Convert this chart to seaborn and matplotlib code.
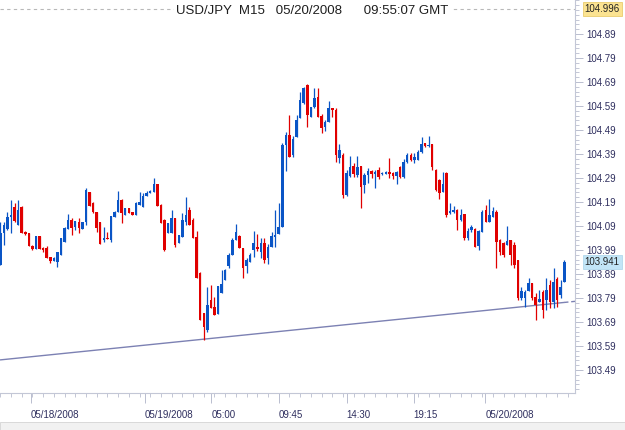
import numpy as np
import pandas as pd
import seaborn as sns
import matplotlib.pyplot as plt
import matplotlib.transforms as mtransforms
from matplotlib.ticker import FixedLocator, FormatStrFormatter
from matplotlib.patches import Rectangle

# USD/JPY M15 candles
opens = [
    103.928, 104.061, 104.078, 104.128, 104.169, 104.094, 104.169, 104.065, 104.061, 104.007,
    103.994, 104.049, 103.999, 103.999, 103.961, 103.944, 103.940, 103.969, 104.024, 104.078,
    104.115, 104.086, 104.107, 104.078, 104.107, 104.232, 104.186, 104.149, 104.107, 104.032,
    104.040, 104.032, 104.128, 104.149, 104.199, 104.136, 104.165, 104.149, 104.136, 104.178,
    104.169, 104.215, 104.228, 104.232, 104.265, 104.178, 104.115, 104.061, 104.061, 104.124,
    104.019, 104.044, 104.107, 104.157, 104.115, 104.044, 103.894, 103.728, 103.657, 103.782,
    103.753, 103.724, 103.811, 103.865, 103.924, 103.969, 104.032, 104.049, 103.999, 103.924,
    103.940, 103.990, 104.003, 103.982, 104.019, 103.957, 104.003, 104.044, 104.057, 104.086,
    104.428, 104.469, 104.386, 104.461, 104.540, 104.603, 104.678, 104.544, 104.586, 104.628,
    104.549, 104.503, 104.524, 104.582, 104.574, 104.374, 104.386, 104.219, 104.299, 104.340,
    104.303, 104.340, 104.261, 104.303, 104.319, 104.307, 104.324, 104.307, 104.307, 104.315,
    104.311, 104.299, 104.336, 104.294, 104.357, 104.386, 104.365, 104.365, 104.399, 104.436,
    104.424, 104.432, 104.324, 104.282, 104.232, 104.311, 104.144, 104.149, 104.157, 104.115,
    104.140, 104.040, 104.074, 104.078, 104.007, 104.065, 104.157, 104.107, 104.128, 104.149,
    104.032, 104.019, 104.011, 104.032, 104.011, 103.949, 103.790, 103.790, 103.819, 103.853,
    103.794, 103.774, 103.815, 103.782, 103.844, 103.774, 103.869, 103.803, 103.857,
]
highs = [
    104.107, 104.107, 104.149, 104.199, 104.186, 104.199, 104.174, 104.069, 104.061, 104.011,
    104.049, 104.049, 104.003, 104.007, 103.961, 103.961, 103.982, 104.040, 104.086, 104.140,
    104.124, 104.111, 104.124, 104.107, 104.249, 104.232, 104.190, 104.149, 104.107, 104.086,
    104.065, 104.132, 104.153, 104.236, 104.203, 104.165, 104.165, 104.149, 104.190, 104.232,
    104.228, 104.236, 104.240, 104.290, 104.265, 104.182, 104.119, 104.103, 104.157, 104.124,
    104.053, 104.144, 104.211, 104.169, 104.124, 104.069, 103.899, 103.728, 103.836, 103.844,
    103.794, 103.840, 103.907, 103.911, 103.978, 104.040, 104.099, 104.053, 103.999, 103.957,
    103.978, 104.069, 104.057, 104.040, 104.040, 104.015, 104.065, 104.157, 104.186, 104.436,
    104.482, 104.553, 104.465, 104.553, 104.649, 104.669, 104.682, 104.586, 104.665, 104.665,
    104.557, 104.532, 104.611, 104.582, 104.582, 104.432, 104.394, 104.324, 104.382, 104.353,
    104.382, 104.340, 104.311, 104.332, 104.324, 104.324, 104.336, 104.315, 104.319, 104.374,
    104.315, 104.319, 104.340, 104.369, 104.394, 104.394, 104.394, 104.407, 104.461, 104.436,
    104.465, 104.432, 104.328, 104.286, 104.315, 104.315, 104.186, 104.174, 104.161, 104.161,
    104.140, 104.082, 104.094, 104.082, 104.074, 104.157, 104.178, 104.203, 104.169, 104.157,
    104.036, 104.024, 104.090, 104.032, 104.024, 103.949, 103.836, 103.824, 103.874, 103.853,
    103.811, 103.824, 103.824, 103.874, 103.865, 103.915, 103.878, 103.865, 103.949,
]
lows = [
    103.928, 104.011, 104.074, 104.061, 104.107, 104.094, 104.061, 104.053, 104.007, 103.990,
    103.994, 103.994, 103.982, 103.957, 103.936, 103.944, 103.919, 103.969, 104.024, 104.078,
    104.053, 104.074, 104.061, 104.078, 104.094, 104.174, 104.144, 104.065, 104.015, 104.024,
    104.036, 104.024, 104.128, 104.149, 104.103, 104.136, 104.144, 104.136, 104.136, 104.178,
    104.169, 104.215, 104.228, 104.232, 104.174, 104.103, 103.986, 104.061, 104.061, 104.003,
    104.019, 104.044, 104.094, 104.094, 104.040, 103.874, 103.699, 103.615, 103.649, 103.749,
    103.719, 103.724, 103.811, 103.865, 103.915, 103.969, 104.032, 103.999, 103.874, 103.894,
    103.940, 103.961, 103.986, 103.957, 103.936, 103.932, 104.003, 104.003, 104.057, 104.086,
    104.319, 104.378, 104.378, 104.461, 104.540, 104.599, 104.503, 104.544, 104.582, 104.544,
    104.478, 104.486, 104.524, 104.544, 104.357, 104.353, 104.207, 104.215, 104.294, 104.294,
    104.294, 104.165, 104.228, 104.269, 104.290, 104.249, 104.286, 104.303, 104.307, 104.290,
    104.286, 104.265, 104.290, 104.290, 104.353, 104.361, 104.353, 104.365, 104.394, 104.419,
    104.419, 104.324, 104.236, 104.203, 104.232, 104.128, 104.140, 104.144, 104.074, 104.111,
    104.032, 104.032, 104.065, 104.003, 103.990, 104.065, 104.107, 104.107, 104.128, 103.915,
    103.969, 103.961, 104.011, 103.928, 103.915, 103.782, 103.782, 103.753, 103.819, 103.782,
    103.699, 103.774, 103.707, 103.740, 103.749, 103.749, 103.753, 103.790, 103.857,
]
closes = [
    104.061, 104.094, 104.128, 104.136, 104.111, 104.157, 104.061, 104.057, 104.007, 103.994,
    104.049, 103.994, 103.990, 103.957, 103.944, 103.957, 103.982, 104.040, 104.082, 104.115,
    104.082, 104.111, 104.082, 104.107, 104.240, 104.174, 104.149, 104.082, 104.015, 104.040,
    104.036, 104.132, 104.149, 104.199, 104.144, 104.165, 104.144, 104.136, 104.186, 104.190,
    104.215, 104.228, 104.236, 104.265, 104.174, 104.103, 103.990, 104.103, 104.124, 104.011,
    104.053, 104.115, 104.136, 104.094, 104.040, 103.874, 103.699, 103.669, 103.761, 103.749,
    103.719, 103.840, 103.849, 103.907, 103.969, 104.032, 104.065, 103.999, 103.915, 103.949,
    103.969, 104.019, 103.994, 104.019, 103.949, 104.003, 104.049, 104.053, 104.086, 104.428,
    104.469, 104.378, 104.453, 104.532, 104.615, 104.665, 104.553, 104.586, 104.624, 104.544,
    104.499, 104.524, 104.582, 104.574, 104.386, 104.407, 104.219, 104.311, 104.336, 104.307,
    104.336, 104.253, 104.303, 104.319, 104.307, 104.315, 104.294, 104.311, 104.315, 104.307,
    104.299, 104.315, 104.294, 104.357, 104.386, 104.365, 104.378, 104.399, 104.432, 104.424,
    104.428, 104.336, 104.240, 104.228, 104.265, 104.136, 104.153, 104.157, 104.115, 104.136,
    104.040, 104.069, 104.086, 104.003, 104.069, 104.149, 104.107, 104.136, 104.153, 104.024,
    103.982, 103.969, 104.028, 103.969, 103.928, 103.790, 103.819, 103.815, 103.853, 103.790,
    103.761, 103.786, 103.740, 103.824, 103.774, 103.857, 103.782, 103.836, 103.941,
]

x_tick_labels = ['05/18/2008', '05/19/2008', '05:00', '09:45', '14:30', '19:15', '05/20/2008']
x_tick_pos = [8.6, 40.5, 59.1, 78.1, 97.0, 115.8, 135.9]
y_tick_values = [103.49, 103.59, 103.69, 103.79, 103.89, 103.99, 104.09, 104.19,
                 104.29, 104.39, 104.49, 104.59, 104.69, 104.79, 104.89]
top_level = 104.996
last_price = 103.941
trend_x = [0, 161]
trend_y = [103.532, 103.776]
title = 'USD/JPY  M15   05/20/2008      09:55:07 GMT'

df = pd.DataFrame({'open': opens, 'high': highs, 'low': lows, 'close': closes})
df['idx'] = np.arange(len(df))

sns.set_theme(style='white')
plt.rcParams['font.family'] = ['Liberation Sans', 'DejaVu Sans']

W, H = 625, 430
fig = plt.figure(figsize=(W / 100, H / 100), dpi=100)
ax = fig.add_axes([0, 1 - 393 / H, 575 / W, 393 / H])

blue, red = '#0a55c6', '#e00000'
colors = np.where(df['close'] >= df['open'], blue, red)
ax.vlines(df['idx'], df['low'], df['high'], colors=colors, lw=0.9, zorder=3)
ax.bar(df['idx'], df['close'] - df['open'], bottom=df['open'], width=0.7,
       color=colors, lw=0, zorder=4)

# trend line: solid under the candles, dashed past the last one
last_i = df['idx'].iloc[-1]
split_y = np.interp(last_i, trend_x, trend_y)
sns.lineplot(x=[trend_x[0], last_i], y=[trend_y[0], split_y], ax=ax,
             color='#7c81b3', lw=1.0, zorder=2)
ax.plot([last_i, trend_x[1]], [split_y, trend_y[1]], color='#7c81b3', lw=1.0,
        ls=(0, (3, 2)), zorder=2)

ax.axhline(top_level, color='#b8b8b8', lw=0.8, ls=(0, (3, 3)), zorder=1)

ax.set_xlim(-0.08, 161)
ax.set_ylim(103.394, 105.032)

ax.yaxis.tick_right()
ax.yaxis.set_major_locator(FixedLocator(y_tick_values))
ax.yaxis.set_minor_locator(FixedLocator(np.round(np.arange(103.41, 105.03, 0.02), 2)))
ax.yaxis.set_major_formatter(FormatStrFormatter('%.2f'))
ax.xaxis.set_major_locator(FixedLocator(x_tick_pos))
ax.xaxis.set_minor_locator(FixedLocator(np.arange(0, 161, 3)))
ax.set_xticklabels(x_tick_labels)
for lbl in ax.get_xticklabels():
    lbl.set_ha('left')

tick_col = '#b9bdcf'
lab_col = '#2e2e5e'
ax.tick_params(axis='y', which='major', right=True, length=5.5, width=0.7,
               color=tick_col, labelsize=7, labelcolor=lab_col, pad=3)
ax.tick_params(axis='y', which='minor', right=True, length=3, width=0.6, color=tick_col)
ax.tick_params(axis='x', which='major', bottom=True, length=7, width=0.7,
               color=tick_col, labelsize=7, labelcolor=lab_col, pad=5)
ax.tick_params(axis='x', which='minor', bottom=True, length=3, width=0.6, color=tick_col)

for side in ['left', 'top']:
    ax.spines[side].set_visible(False)
for side in ['right', 'bottom']:
    ax.spines[side].set_color('#c3c7d6')
    ax.spines[side].set_linewidth(0.8)

trans = mtransforms.blended_transform_factory(ax.transAxes, ax.transData)
ax.text(1.017, top_level, f'{top_level:.3f}', transform=trans, ha='left', va='center',
        fontsize=7, color='#222222', clip_on=False, zorder=6,
        bbox=dict(boxstyle='square,pad=0.2', fc='#fbe391', ec='#e6c65c', lw=0.5))
ax.text(1.017, last_price, f'{last_price:.3f}', transform=trans, ha='left', va='center',
        fontsize=7, color='#222222', clip_on=False, zorder=6,
        bbox=dict(boxstyle='square,pad=0.2', fc='#c2e5f7', ec='#a9d3ea', lw=0.5))

fig.text(0.5, 1 - 10.5 / H, title, ha='center', va='center', fontsize=9.5,
         family=['Liberation Sans', 'DejaVu Sans'],
         color='#1e1e1e', bbox=dict(fc='white', ec='none', pad=1.5))

# scrollbar strip at the bottom
fig.patches.append(Rectangle((0, 0), 1, 8 / H, transform=fig.transFigure,
                             fc='#f1f1f1', ec='#d4d4d4', lw=0.6))

fig.savefig('out.png', dpi=100)
